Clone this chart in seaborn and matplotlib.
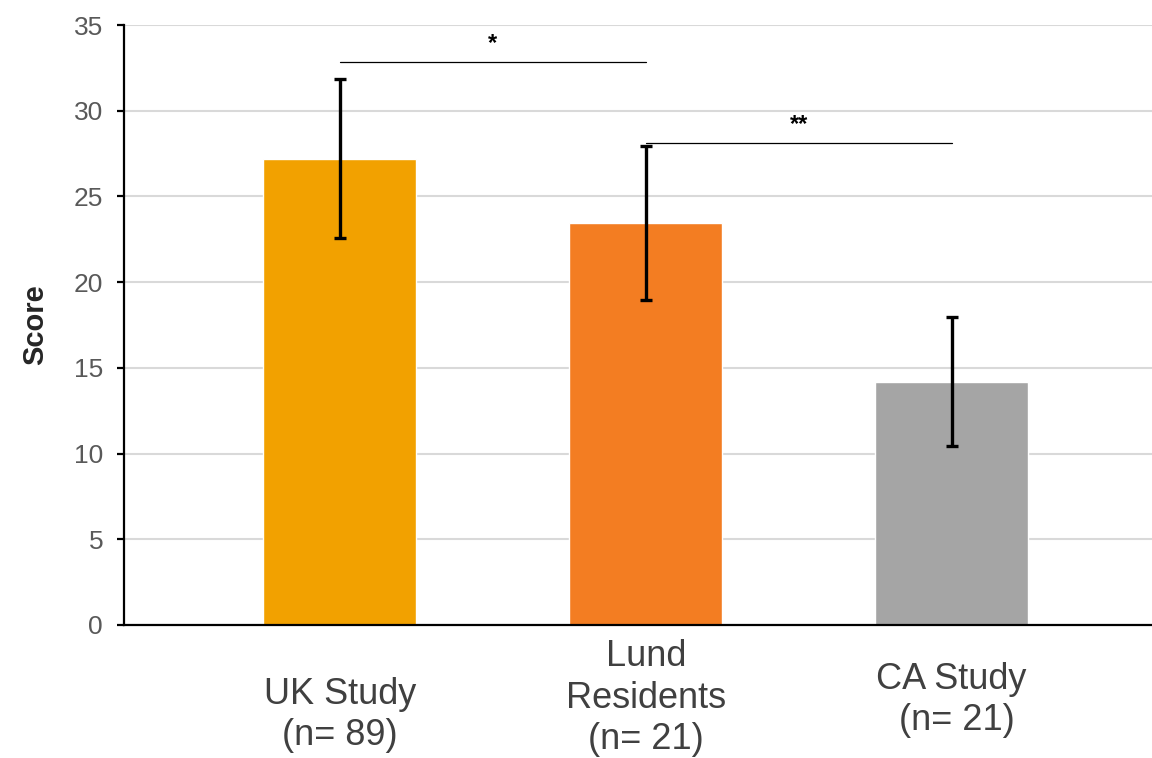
import matplotlib
matplotlib.use('Agg')
import matplotlib.pyplot as plt
import matplotlib.transforms as mtransforms
import pandas as pd
import seaborn as sns

# data
groups = ['UK Study\n(n= 89)', 'Lund\nResidents\n(n= 21)', 'CA Study\n (n= 21)']
scores = [27.2, 23.45, 14.2]
errors = [4.65, 4.5, 3.75]
bar_colors = ['#F2A100', '#F37D22', '#A5A5A5']
label_y = [-0.150, -0.122, -0.125]   # label centres, axes fraction
# significance brackets: (left group, right group, height, marker)
brackets = [(0, 1, 32.85, '*'), (1, 2, 28.1, '**')]

sns.set_style('white')
plt.rcParams['font.family'] = ['Liberation Sans', 'DejaVu Sans']

df = pd.DataFrame({'group': groups, 'score': scores})

fig = plt.figure(figsize=(11.52, 7.58), dpi=100)
ax = fig.add_axes([0.1076, 0.1755, 0.8924, 0.7915])

sns.barplot(data=df, x='group', y='score', hue='group', palette=bar_colors,
            width=0.5, legend=False, ax=ax, saturation=1)

ax.errorbar(range(len(groups)), scores, yerr=errors, fmt='none', ecolor='black',
            elinewidth=2.4, capsize=4, capthick=2.4, zorder=5)

for a, b, h, mark in brackets:
  ax.plot([a, b], [h, h], color='black', linewidth=0.9, zorder=4)
  ax.text((a + b) / 2, h + 0.4, mark, ha='center', va='bottom', fontsize=17,
          fontweight='bold', color='black')

ax.set_ylim(0, 35)
ax.set_yticks(range(0, 36, 5))
ax.set_xlim(-0.706, 2.655)
ax.yaxis.grid(True, color='#D9D9D9', linewidth=1.5)
ax.set_axisbelow(True)

for s in ['top', 'right']:
  ax.spines[s].set_visible(False)
for s in ['left', 'bottom']:
  ax.spines[s].set_color('black')
  ax.spines[s].set_linewidth(1.6)

ax.tick_params(axis='y', direction='out', length=5, width=1.6, color='black',
               labelsize=19, labelcolor='#595959', pad=10, left=True)
ax.set_xticks(range(len(groups)))
ax.set_xticklabels([''] * len(groups))
ax.tick_params(axis='x', length=0)
ax.set_xlabel('')

ax.set_ylabel('Score', fontsize=21, fontweight='bold', labelpad=18)

trans = mtransforms.blended_transform_factory(ax.transData, ax.transAxes)
for i, (g, yy) in enumerate(zip(groups, label_y)):
  ax.text(i, yy, g, transform=trans, ha='center', va='center', fontsize=26,
          color='#404040', linespacing=1.25, multialignment='center', clip_on=False)

fig.savefig('out.png', dpi=100)
plt.close()
